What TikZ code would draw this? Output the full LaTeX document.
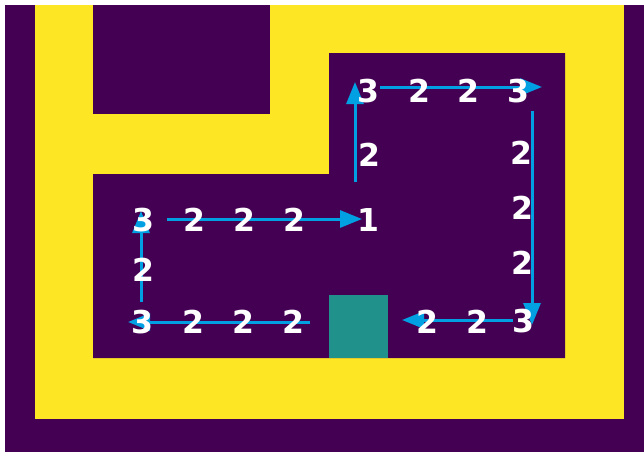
\documentclass[tikz,border=0pt]{standalone}
\usepackage{fontspec}
\setmainfont{DejaVu Sans}
\usetikzlibrary{arrows.meta}
\definecolor{bgdark}{HTML}{440154}
\definecolor{wallyellow}{HTML}{FDE725}
\definecolor{goalteal}{HTML}{21918C}
\definecolor{pathblue}{RGB}{0,160,227}
\begin{document}
\begin{tikzpicture}[x=1pt,y=-1pt,
  num/.style={text=white,font=\fontsize{31.5}{31.5}\selectfont\bfseries,inner sep=0pt},
  patharrow/.style={draw=pathblue,line width=3pt,-{Triangle[length=22pt,width=17pt]}}]
\useasboundingbox (0,0) rectangle (644,452);
\fill[white] (0,0) rectangle (644,452);
\fill[bgdark] (5,5) rectangle (644,452);
\fill[wallyellow] (35,5) rectangle (624,419);
\fill[bgdark] (93,5) rectangle (270,114);
\fill[bgdark] (93,174) -- (329,174) -- (329,53) -- (565,53) -- (565,358) -- (93,358) -- cycle;
\fill[goalteal] (329,295) rectangle (388,358);
% arrow end points
\coordinate (a1s) at (310,322); \coordinate (a1e) at (128,322);
\coordinate (a2s) at (141,302); \coordinate (a2e) at (141,211);
\coordinate (a3s) at (167,219); \coordinate (a3e) at (362,219);
\coordinate (a4s) at (355,182); \coordinate (a4e) at (355,82);
\coordinate (a5s) at (380,87);  \coordinate (a5e) at (542,87);
\coordinate (a6s) at (532,111); \coordinate (a6e) at (532,325);
\coordinate (a7s) at (513,320); \coordinate (a7e) at (402,320);
\draw[patharrow] (a1s) -- (a1e);
\draw[patharrow] (a2s) -- (a2e);
\draw[patharrow] (a3s) -- (a3e);
\draw[patharrow] (a4s) -- (a4e);
\draw[patharrow] (a5s) -- (a5e);
\draw[patharrow] (a6s) -- (a6e);
\draw[patharrow] (a7s) -- (a7e);
% numbers
\node[num] (r1c1) at (143,220) {3};
\node[num] (r1c2) at (194,220) {2};
\node[num] (r1c3) at (244,220) {2};
\node[num] (r1c4) at (294,220) {2};
\node[num] (r1c5) at (368,220) {1};
\node[num] (l2) at (143,270) {2};
\node[num] (b1) at (142,322) {3};
\node[num] (b2) at (193,322) {2};
\node[num] (b3) at (243,322) {2};
\node[num] (b4) at (293,322) {2};
\node[num] (v1) at (369,155) {2};
\node[num] (t1) at (368,91) {3};
\node[num] (t2) at (419,91) {2};
\node[num] (t3) at (468,91) {2};
\node[num] (t4) at (518,91) {3};
\node[num] (rc1) at (521,153) {2};
\node[num] (rc2) at (522,208) {2};
\node[num] (rc3) at (522,263) {2};
\node[num] (rc4) at (523,321) {3};
\node[num] (br1) at (477,322) {2};
\node[num] (br2) at (427,322) {2};
\end{tikzpicture}
\end{document}
